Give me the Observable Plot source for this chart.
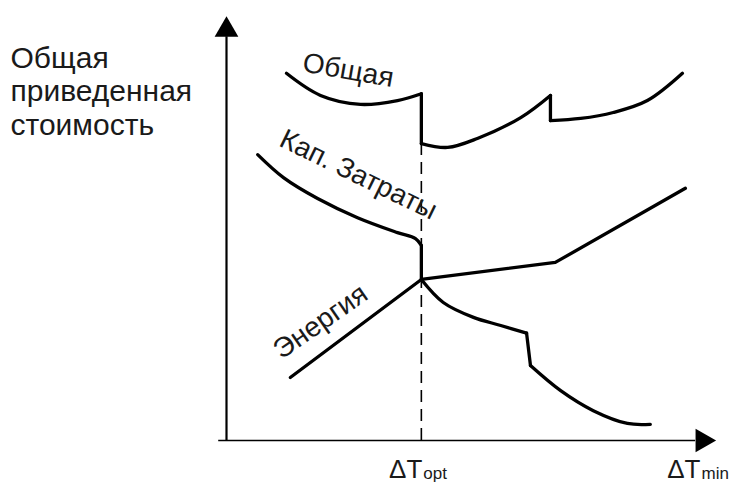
<!DOCTYPE html>
<html>
<head>
<meta charset="utf-8">
<script src="https://cdn.jsdelivr.net/npm/d3@7"></script>
<script src="https://cdn.jsdelivr.net/npm/@observablehq/plot@0.6"></script>
<style>
  html, body { margin: 0; padding: 0; background: #fff; }
  svg { display: block; }
</style>
</head>
<body>
<div id="chart"></div>
<script>
// Total annualised cost versus the minimum approach temperature ΔT:
// capital cost, energy cost and their sum, with the optimum ΔT marked.

const xOpt = 40;    // ΔT_opt on the ΔT axis
const xMin = 97.1;  // ΔT_min label position

// Each curve is stored as pieces of [ΔT, cost]; smooth pieces get a spline,
// straight pieces (steps and kinks) are drawn as straight segments.
const totalSmooth = [
  [[12.3, 86.2], [19.3, 81.0], [27.5, 78.9], [35.1, 79.8], [40, 81.4]],
  [[40, 69.7], [45.4, 68.8], [51.5, 70.9], [60.4, 75.8], [66.5, 81.0]],
  [[66.5, 75.1], [72.7, 75.6], [79.4, 77.0], [86.4, 79.8], [93.6, 86.2]]
];
const totalStraight = [
  [[40, 81.4], [40, 69.7]],
  [[66.5, 81.0], [66.5, 75.1]]
];
const capitalSmooth = [
  [[6.4, 67.1], [11.7, 61.7], [18.7, 56.8], [26.9, 52.3], [35.1, 48.8], [38.8, 47.4], [40, 45.8]]
];
const capitalStraight = [
  [[40, 45.8], [40, 37.8], [67.5, 41.8], [94.2, 59.2]]
];
const energySmooth = [
  [[40, 37.8], [44.5, 32.4], [50.7, 28.9], [56.3, 27.0], [61.6, 25.2]],
  [[62.4, 17.6], [68.6, 11.7], [75.3, 7.0], [82.3, 4.0], [87.0, 3.8]]
];
const energyStraight = [
  [[13.1, 14.8], [40, 37.8]],
  [[61.6, 25.2], [62.4, 17.6]]
];

const curveLabels = [
  {text: "Общая", x: 25.0, y: 86.9, angle: 10},
  {text: "Кап. Затраты", x: 27.1, y: 62.4, angle: 26},
  {text: "Энергия", x: 19.3, y: 27.9, angle: -35}
];

const xTickLabels = [
  {x: xOpt, main: "ΔT", sub: "opt"},
  {x: xMin, main: "ΔT", sub: "min"}
];

const yTitle = "Общая\nприведенная\nстоимость";

// Flatten a list of pieces into rows keyed by piece id.
function rows(groups) {
  const out = [];
  groups.forEach((pieces, g) => pieces.forEach((piece, p) =>
    piece.forEach(([x, y]) => out.push({x, y, piece: `${g}-${p}`}))));
  return out;
}

const smooth = rows([totalSmooth, capitalSmooth, energySmooth]);
const straight = rows([totalStraight, capitalStraight, energyStraight]);

const curveStyle = {
  x: "x", y: "y", z: "piece",
  stroke: "black", strokeWidth: 3.3,
  strokeLinejoin: "round", strokeLinecap: "round"
};

const chart = Plot.plot({
  width: 731,
  height: 483,
  marginLeft: 226,
  marginRight: 13,
  marginTop: 14,
  marginBottom: 43,
  x: {domain: [0, 101], axis: null},
  y: {domain: [0, 100], axis: null},
  style: {fontFamily: "'Liberation Sans', Arial, sans-serif", background: "white", overflow: "visible"},
  marks: [
    // axes with filled arrow heads
    Plot.ruleX([0], {y1: 0, y2: 94.8, stroke: "black", strokeWidth: 2.2}),
    Plot.ruleY([0], {x1: -1.6, x2: 96.3, stroke: "black", strokeWidth: 1.6}),
    Plot.dot([{x: 0, y: 96.4}], {x: "x", y: "y", symbol: "triangle", r: 8.8, fill: "black"}),
    Plot.dot([{x: 97.7, y: 0}], {x: "x", y: "y", symbol: "triangle", r: 8.8, fill: "black", rotate: 90}),

    // optimum marker
    Plot.ruleX([xOpt], {y1: 0, y2: 81.4, stroke: "black", strokeWidth: 1.6, strokeDasharray: "12,7"}),

    // cost curves
    Plot.line(smooth, {...curveStyle, curve: "catmull-rom"}),
    Plot.line(straight, {...curveStyle, curve: "linear"}),

    // curve names
    Plot.text(curveLabels, {
      x: "x", y: "y", text: "text", rotate: "angle",
      fontSize: 28, fill: "#1a1a1a", textAnchor: "middle", lineAnchor: "middle"
    }),

    // axis labels
    Plot.text([yTitle], {
      frameAnchor: "top-left", textAnchor: "start", lineAnchor: "top",
      dx: -216, dy: 29.7, fontSize: 30, lineHeight: 1.117, fill: "#1a1a1a"
    }),
    Plot.text(xTickLabels, {
      x: "x", text: "main", frameAnchor: "bottom",
      textAnchor: "end", lineAnchor: "bottom", dx: 1, dy: 37, fontSize: 26, fill: "#1a1a1a"
    }),
    Plot.text(xTickLabels, {
      x: "x", text: "sub", frameAnchor: "bottom",
      textAnchor: "start", lineAnchor: "bottom", dx: 2, dy: 38, fontSize: 17, fill: "#1a1a1a"
    })
  ]
});

document.getElementById("chart").append(chart);
</script>
</body>
</html>
